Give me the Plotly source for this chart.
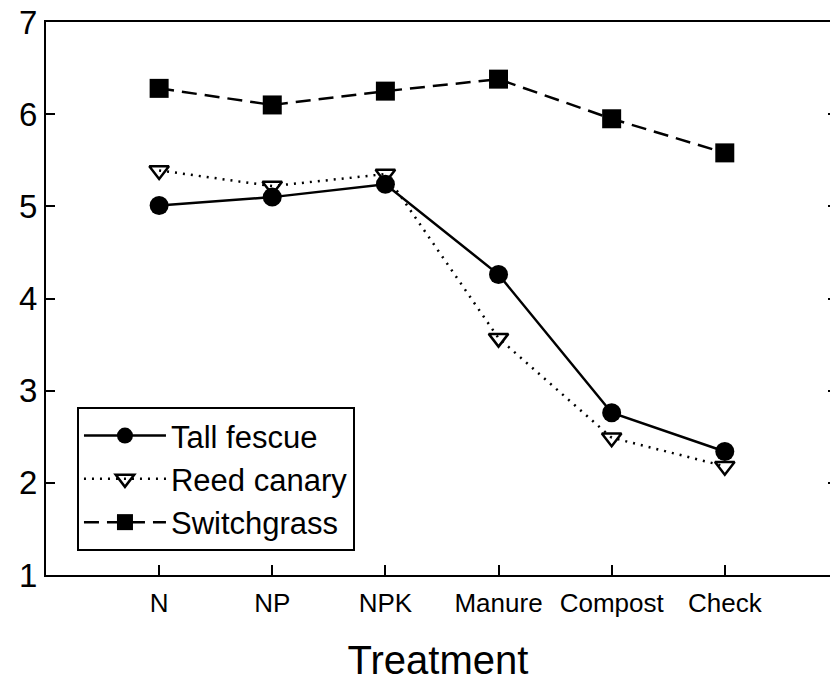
import plotly.graph_objects as go

treatments = ["N", "NP", "NPK", "Manure", "Compost", "Check"]
positions = [1, 2, 3, 4, 5, 6]
tall_fescue = [5.01, 5.10, 5.24, 4.26, 2.76, 2.34]
reed_canary = [5.39, 5.22, 5.35, 3.57, 2.49, 2.18]
switchgrass = [6.28, 6.10, 6.25, 6.38, 5.95, 5.58]
y_ticks = [1, 2, 3, 4, 5, 6, 7]

FONT = "Liberation Sans, Arial, sans-serif"

fig = go.Figure()
fig.add_trace(go.Scatter(
    x=positions, y=tall_fescue, name="Tall fescue", mode="lines+markers",
    line=dict(color="black", width=2.5),
    marker=dict(symbol="circle", size=19, color="black"),
))
fig.add_trace(go.Scatter(
    x=positions, y=reed_canary, name="Reed canary", mode="lines+markers",
    line=dict(color="black", width=2.5, dash="2px,6px"),
    marker=dict(symbol="triangle-down-open", size=17, color="black",
                line=dict(width=2.5, color="black")),
))
fig.add_trace(go.Scatter(
    x=positions, y=switchgrass, name="Switchgrass", mode="lines+markers",
    line=dict(color="black", width=2.5, dash="15px,8px"),
    marker=dict(symbol="square", size=19, color="black"),
))
# invisible trace to hold the right-side tick axis
fig.add_trace(go.Scatter(
    x=positions, y=switchgrass, yaxis="y2", mode="markers",
    marker=dict(opacity=0), showlegend=False, hoverinfo="skip",
))

fig.update_layout(
    width=830, height=682,
    margin=dict(l=46, r=0, t=22, b=107, autoexpand=False),
    paper_bgcolor="white", plot_bgcolor="white",
    font=dict(family=FONT, color="black"),
    showlegend=True,
    legend=dict(
        x=0.0395, y=0.304, xanchor="left", yanchor="top",
        bordercolor="black", borderwidth=2, bgcolor="white",
        font=dict(size=31, family=FONT), itemwidth=82,
        tracegroupgap=0,
    ),
    xaxis=dict(
        range=[0, 6.93], tickvals=positions, ticktext=treatments,
        showline=True, linecolor="black", linewidth=2, mirror=True,
        ticks="inside", ticklen=10, tickwidth=2, tickcolor="black",
        showgrid=False, zeroline=False, automargin=False,
        tickfont=dict(size=26, family=FONT), ticklabelstandoff=4,
        title=dict(text="Treatment", font=dict(size=40, family=FONT), standoff=32),
    ),
    yaxis=dict(
        range=[1, 7], tickvals=y_ticks,
        showline=True, linecolor="black", linewidth=2,
        ticks="inside", ticklen=9, tickwidth=2, tickcolor="black",
        showgrid=False, zeroline=False, automargin=False,
        tickfont=dict(size=33, family=FONT),
    ),
    yaxis2=dict(
        range=[1, 7], tickvals=y_ticks, overlaying="y", side="right",
        showline=False, showticklabels=False, showgrid=False, zeroline=False,
        ticks="inside", ticklen=2, tickwidth=2, tickcolor="black",
        automargin=False,
    ),
)

fig.write_html("out.html", config={"displayModeBar": False},
               post_script="document.body.style.margin='0';")
